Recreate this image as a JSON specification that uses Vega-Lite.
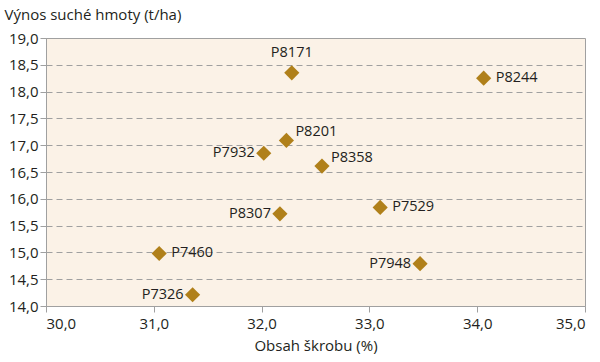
{
  "$schema": "https://vega.github.io/schema/vega-lite/v6.json",
  "width": 539,
  "height": 268,
  "autosize": {"type": "none"},
  "padding": {"left": 46, "top": 38, "right": 15, "bottom": 56},
  "background": "white",
  "config": {
    "view": {"fill": "#FBF2E7", "stroke": "#A0A0A0", "strokeWidth": 1},
    "font": "Open Sans",
    "text": {"font": "Open Sans", "fontSize": 14.5, "color": "#231F20"}
  },
  "data": {
    "values": [
      {"name": "P8171", "skrob": 32.28, "vynos": 18.35},
      {"name": "P8244", "skrob": 34.06, "vynos": 18.25},
      {"name": "P8201", "skrob": 32.23, "vynos": 17.09},
      {"name": "P7932", "skrob": 32.02, "vynos": 16.85},
      {"name": "P8358", "skrob": 32.56, "vynos": 16.61},
      {"name": "P8307", "skrob": 32.17, "vynos": 15.72},
      {"name": "P7529", "skrob": 33.10, "vynos": 15.84},
      {"name": "P7460", "skrob": 31.05, "vynos": 14.98},
      {"name": "P7948", "skrob": 33.47, "vynos": 14.79},
      {"name": "P7326", "skrob": 31.36, "vynos": 14.21}
    ]
  },
  "encoding": {
    "x": {
      "field": "skrob", "type": "quantitative",
      "scale": {"domain": [30, 35], "nice": false, "zero": false},
      "axis": {
        "title": "Obsah škrobu (%)", "values": [30, 31, 32, 33, 34, 35],
        "labelExpr": "replace(format(datum.value, '.1f'), '.', ',')",
        "grid": false, "domainColor": "#A0A0A0", "tickColor": "#A0A0A0", "tickSize": 6,
        "labelFont": "Open Sans", "labelFontSize": 15, "labelColor": "#231F20", "labelPadding": 4,
        "titleFont": "Open Sans", "titleFontSize": 15, "titleFontWeight": "normal", "titleColor": "#231F20", "titlePadding": 7
      }
    },
    "y": {
      "field": "vynos", "type": "quantitative",
      "scale": {"domain": [14, 19], "nice": false, "zero": false},
      "axis": {
        "title": "Výnos suché hmoty (t/ha)", "values": [14, 14.5, 15, 15.5, 16, 16.5, 17, 17.5, 18, 18.5, 19],
        "labelExpr": "replace(format(datum.value, '.1f'), '.', ',')",
        "grid": true, "gridColor": "#A0A0A0", "gridDash": [6, 4], "gridWidth": 1,
        "domainColor": "#A0A0A0", "tickColor": "#A0A0A0", "tickSize": 6,
        "labelFont": "Open Sans", "labelFontSize": 15, "labelColor": "#231F20", "labelPadding": 2,
        "titleFont": "Open Sans", "titleFontSize": 15, "titleFontWeight": "normal", "titleColor": "#231F20",
        "titleAngle": 0, "titleX": -42, "titleY": -24, "titleAlign": "left", "titleBaseline": "middle"
      }
    }
  },
  "layer": [
    {
      "mark": {"type": "point", "shape": "diamond", "filled": true, "size": 230, "color": "#B0801A", "opacity": 1}
    },
    {
      "transform": [{"filter": {"field": "name", "oneOf": ["P8244", "P7529", "P7460"]}}],
      "mark": {"type": "text", "align": "left", "baseline": "middle", "dx": 12},
      "encoding": {"text": {"field": "name"}}
    },
    {
      "transform": [{"filter": {"field": "name", "oneOf": ["P8201", "P8358"]}}],
      "mark": {"type": "text", "align": "left", "baseline": "middle", "dx": 9, "dy": -8},
      "encoding": {"text": {"field": "name"}}
    },
    {
      "transform": [{"filter": {"field": "name", "oneOf": ["P7932", "P8307", "P7948", "P7326"]}}],
      "mark": {"type": "text", "align": "right", "baseline": "middle", "dx": -9},
      "encoding": {"text": {"field": "name"}}
    },
    {
      "transform": [{"filter": {"field": "name", "oneOf": ["P8171"]}}],
      "mark": {"type": "text", "align": "center", "baseline": "middle", "dy": -20},
      "encoding": {"text": {"field": "name"}}
    }
  ]
}
